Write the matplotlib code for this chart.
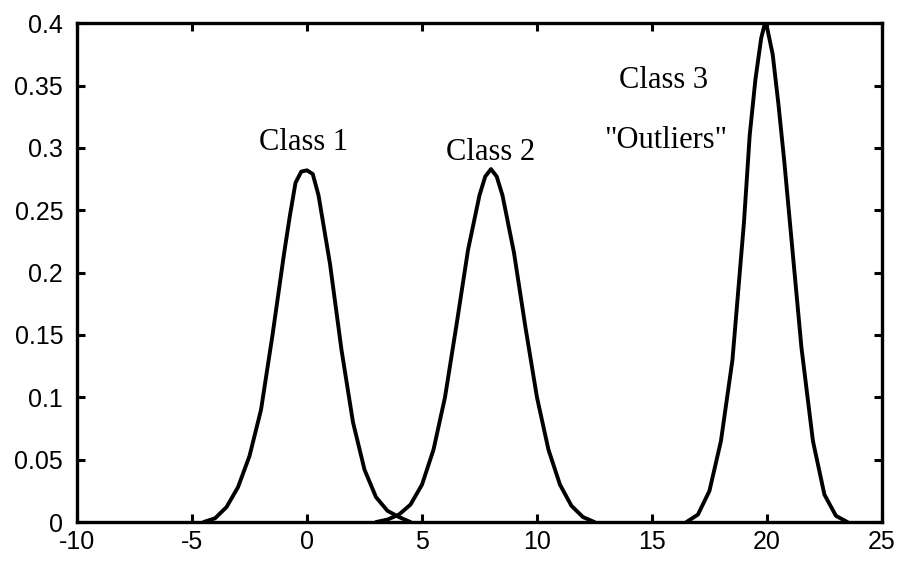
import numpy as np
import matplotlib
matplotlib.use("Agg")
import matplotlib.pyplot as plt

plt.rcParams["axes.unicode_minus"] = False

# density curves of the three classes
x_class1 = [-4.5, -4, -3.5, -3, -2.5, -2, -1.5, -1, -0.75, -0.5, -0.25, 0,
            0.25, 0.5, 1, 1.5, 2, 2.5, 3, 3.5, 4, 4.5]
y_class1 = [0.000, 0.003, 0.012, 0.028, 0.053, 0.090, 0.150, 0.215, 0.245, 0.272, 0.281, 0.282,
            0.279, 0.262, 0.207, 0.138, 0.080, 0.042, 0.020, 0.009, 0.004, 0.000]

x_class2 = [3, 3.5, 4, 4.5, 5, 5.5, 6, 6.5, 7, 7.5, 7.75, 8,
            8.25, 8.5, 9, 9.5, 10, 10.5, 11, 11.5, 12, 12.5]
y_class2 = [0.000, 0.002, 0.006, 0.014, 0.030, 0.058, 0.100, 0.158, 0.218, 0.262, 0.277, 0.283,
            0.277, 0.262, 0.216, 0.156, 0.100, 0.058, 0.030, 0.013, 0.004, 0.000]

x_class3 = [16.5, 17, 17.5, 18, 18.5, 19, 19.25, 19.5, 19.75, 19.9, 20,
            20.25, 20.5, 20.75, 21, 21.5, 22, 22.5, 23, 23.5]
y_class3 = [0.000, 0.006, 0.025, 0.065, 0.130, 0.240, 0.310, 0.355, 0.388, 0.399, 0.397,
            0.375, 0.335, 0.290, 0.240, 0.140, 0.065, 0.022, 0.005, 0.000]

xticks = [-10, -5, 0, 5, 10, 15, 20, 25]
yticks = [0, 0.05, 0.1, 0.15, 0.2, 0.25, 0.3, 0.35, 0.4]
ytick_labels = ["0", "0.05", "0.1", "0.15", "0.2", "0.25", "0.3", "0.35", "0.4"]

fig = plt.figure(figsize=(8.99, 5.65), dpi=100)
ax = fig.add_axes([0.0857, 0.076, 0.8953, 0.883])

for xs, ys in [(x_class1, y_class1), (x_class2, y_class2), (x_class3, y_class3)]:
    ax.plot(xs, ys, color="black", lw=2.8, solid_joinstyle="round",
            solid_capstyle="round")

ax.set_xlim(-10, 25)
ax.set_ylim(0, 0.4)
ax.set_xticks(xticks)
ax.set_yticks(yticks)
ax.set_yticklabels(ytick_labels)
ax.tick_params(direction="in", length=6, width=2.2, top=True, right=True,
               labelsize=18)
ax.tick_params(axis="y", pad=10)
ax.tick_params(axis="x", pad=6)
for lab in ax.get_xticklabels() + ax.get_yticklabels():
    lab.set_family("Liberation Sans")
for s in ax.spines.values():
    s.set_linewidth(2.4)

serif = dict(family="Liberation Serif", fontsize=22, ha="center", va="baseline")
ax.text(-0.13, 0.298, "Class 1", **serif)
ax.text(8.0, 0.290, "Class 2", **serif)
ax.text(15.5, 0.348, "Class 3", **serif)
ax.text(15.6, 0.300, '"Outliers"', **serif)

fig.savefig("out.png", dpi=100)
